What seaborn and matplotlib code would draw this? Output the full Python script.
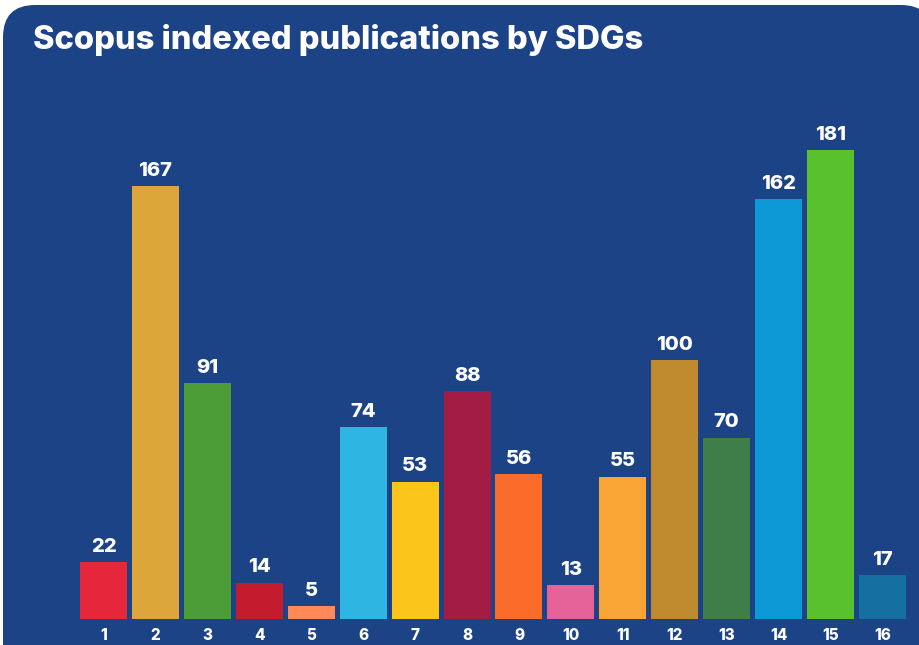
import matplotlib
matplotlib.use('Agg')
import matplotlib.pyplot as plt
from matplotlib.patches import FancyBboxPatch
import seaborn as sns
import pandas as pd

sdgs = [str(i) for i in range(1, 17)]
publications = [22, 167, 91, 14, 5, 74, 53, 88, 56, 13, 55, 100, 70, 162, 181, 17]
sdg_colors = ['#E5263B', '#DDA63A', '#4C9D38', '#C41B2E', '#FF8A57', '#2EB5E1',
              '#FCC51B', '#A21C44', '#FB6B2A', '#E6639A', '#F8A535', '#BF8B2E',
              '#3F7E48', '#0D98D6', '#58C12D', '#1570A1']

bg = '#1d4387'

df = pd.DataFrame({'sdg': sdgs, 'count': publications})

sns.set_theme(style='white')
plt.rcParams['font.family'] = ['Inter', 'DejaVu Sans']

fig = plt.figure(figsize=(9.19, 6.45), dpi=100)
fig.patch.set_facecolor('white')

# card behind the chart
card = FancyBboxPatch((3 / 919, -0.1), 930 / 919, 1.1 - 5 / 645,
                      boxstyle='round,pad=0,rounding_size=0.035',
                      transform=fig.transFigure, facecolor=bg, edgecolor='none',
                      mutation_aspect=919 / 645, zorder=-5)
fig.patches.append(card)

ax = fig.add_axes([60 / 919, 26 / 645, 850 / 919, 518 / 645])
ax.set_zorder(2)
ax.set_facecolor('none')
sns.barplot(data=df, x='sdg', y='count', hue='sdg', palette=sdg_colors,
            legend=False, width=0.905, saturation=1, linewidth=0, ax=ax)

for c in ax.containers:
    ax.bar_label(c, padding=4.5, color='white', fontsize=14.5, fontweight='heavy')

ax.set_xlim(-0.838, 15.53)
ax.set_ylim(0, 200)
ax.set_xlabel('')
ax.set_ylabel('')
ax.set_yticks([])
ax.tick_params(axis='x', length=0, pad=6.5, labelsize=11, labelcolor='white')
for lab in ax.get_xticklabels():
    lab.set_fontweight('heavy')
sns.despine(ax=ax, left=True, bottom=True)

title = fig.text(33 / 919, 1 - 40 / 645, 'Scopus indexed publications by SDGs',
                 color='white', fontsize=23.5, fontweight='heavy', va='center', ha='left')
title.set_zorder(3)

fig.savefig('out.png', dpi=100, facecolor=fig.get_facecolor())
